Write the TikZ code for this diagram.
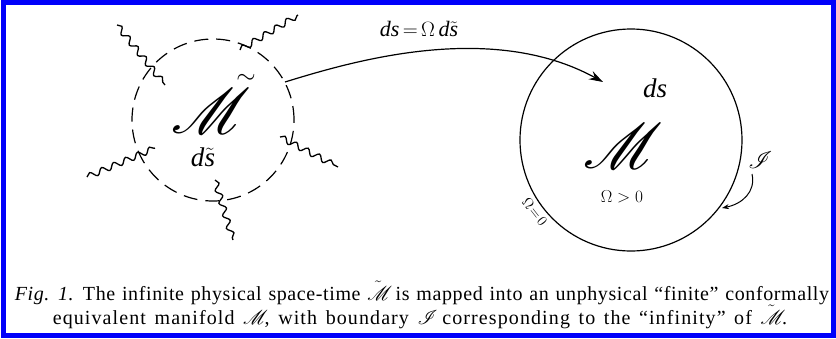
\documentclass[tikz,border=0pt]{standalone}
\usepackage{fontspec}
\setmainfont{Liberation Serif}
\usetikzlibrary{arrows.meta,decorations.pathmorphing}
\DeclareFontFamily{U}{myrsfs}{\skewchar\font=127}
\DeclareFontShape{U}{myrsfs}{m}{n}{<-> rsfs10}{}
\newcommand{\myscr}{\usefont{U}{myrsfs}{m}{n}}
\newcommand{\scrM}{\hbox{\myscr M}}
\newcommand{\scrI}{\hbox{\myscr I}}
\newcommand{\capfontA}{\fontsize{20}{24}\selectfont\addfontfeatures{LetterSpace=3}\spaceskip=0.34em plus 0.1em\relax}
\newcommand{\capfontB}{\fontsize{20}{24}\selectfont\addfontfeatures{LetterSpace=5.5}\spaceskip=0.43em plus 0.1em\relax}
\definecolor{frameblue}{RGB}{0,0,250}
\tikzset{
  wavy/.style={line width=1.3pt,decorate,decoration={snake,segment length=13pt,amplitude=3pt}},
  ring/.style={line width=1.2pt},
  bigscript/.style={font=\fontsize{64}{64}\selectfont\myscr,inner sep=0pt},
  smallscript/.style={font=\fontsize{27}{27}\selectfont,inner sep=0pt},
  captionline/.style={inner sep=0pt,anchor=base}
}
\begin{document}
\begin{tikzpicture}[x=1pt,y=-1pt]
\useasboundingbox (0,0) rectangle (836,338);
\fill[white] (0,0) rectangle (836,338);
\draw[frameblue,line width=5pt] (3,2.5) rectangle (833.5,335.5);
% dashed circle
\node[circle,draw,ring,dash pattern=on 14pt off 8pt,minimum size=162pt,inner sep=0pt] (Mt) at (213,120) {};
% wavy lines
\coordinate (w1a) at (117,25);  \coordinate (w1b) at (165,85);
\coordinate (w2a) at (240,50);  \coordinate (w2b) at (298,15);
\coordinate (w3a) at (280,137); \coordinate (w3b) at (338,167);
\coordinate (w4a) at (215,180); \coordinate (w4b) at (233,240);
\coordinate (w5a) at (87,177);  \coordinate (w5b) at (155,148);
\draw[wavy] (w1a) -- (w1b);
\draw[wavy] (w2a) -- (w2b);
\draw[wavy] (w3a) -- (w3b);
\draw[wavy] (w4a) -- (w4b);
\draw[wavy] (w5a) -- (w5b);
\node[bigscript] (Mtl) at (206,111) {M};
\node[inner sep=0pt,font=\fontsize{26}{26}\selectfont] (Mtilde) at (246,79) {$\sim$};
\node[smallscript] (dst) at (203,157) {\textit{d}$\tilde{\textit{s}}$};
% right circle
\node[circle,draw,ring,minimum size=222pt,inner sep=0pt] (M) at (631,140) {};
\node[bigscript] (Ml) at (618,146) {M};
\node[smallscript] (ds) at (655,88) {\textit{ds}};
\node[inner sep=0pt,font=\fontsize{16}{16}\selectfont] (pos) at (622,197) {$\Omega > 0$};
\node[inner sep=0pt,font=\fontsize{15}{15}\selectfont,rotate=-52] (zero) at (535,212) {$\Omega\!=\!0$};
\node[inner sep=0pt,font=\fontsize{24}{24}\selectfont\myscr] (scri) at (758,160) {I};
\coordinate (scritip) at (722,208);
\draw[line width=1pt,-{Stealth[length=7pt,width=5pt]}] (752,174) .. controls (756,192) and (742,204) .. (scritip);
% mapping arrow
\coordinate (arrs) at (285,82);
\coordinate (arre) at (603,82);
\draw[line width=1.2pt,-{Stealth[length=14pt,width=9pt]}] (arrs) .. controls (350,62) and (490,20) .. (arre);
\node[inner sep=0pt,font=\fontsize{22}{22}\selectfont] (map) at (419,29) {\textit{ds}$\,{=}\,\Omega\,$\textit{d}$\tilde{\textit{s}}$};
% caption
\node[captionline,font=\capfontA] (cap1) at (422,300) {\textit{Fig. 1.} The infinite physical space-time $\tilde{\scrM}$ is mapped into an unphysical ``finite'' conformally};
\node[captionline,font=\capfontB] (cap2) at (420,324) {equivalent manifold $\scrM$, with boundary $\scrI$ corresponding to the ``infinity'' of $\tilde{\scrM}$.};
\end{tikzpicture}
\end{document}
